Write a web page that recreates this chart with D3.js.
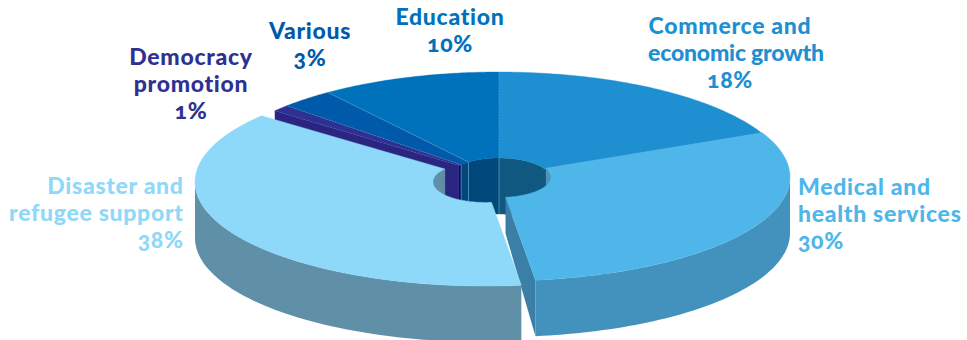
<!DOCTYPE html>
<html>
<head>
<meta charset="utf-8">
<script src="https://cdn.jsdelivr.net/npm/d3@7/dist/d3.min.js"></script>
<style>
html,body{margin:0;padding:0;background:#fff;}
svg{display:block;}
text{font-family:"Lato",sans-serif;font-weight:900;font-size:23px;letter-spacing:.7px;font-variant-numeric:oldstyle-nums;}
</style>
</head>
<body>
<svg id="chart" width="967" height="340"></svg>
<script>
// Funding shares, clockwise from the education wedge
const categories = ["Education","Commerce and economic growth","Medical and health services","Disaster and refugee support","Democracy promotion","Various"];
const shares = [10,18,30,38,1,3];
const labelLines = [["Education"],["Commerce and","economic growth"],["Medical and","health services"],["Disaster and","refugee support"],["Democracy","promotion"],["Various"]];
const topColors = ["#0071bb","#1e8fd1","#4fb6e9","#8ed8f9","#2e3192","#005aa9"];
const sideColors = ["#00477a","#10587f","#4292bd","#5f90a8","#2b2582","#00477a"];
const innerColors = ["#00477a","#10587f","#4a93bb","#5f8fa6","#0a0a62","#00477a"];

// Disc geometry and how far each wedge is pulled out of the disc
const CX = 499, CY = 179, RX = 291, RY = 107, HOLE_RX = 52, HOLE_RY = 21, DEPTH = 56;
const pulls = [{},{},{dy:-2,ky:104/107},{dx:-14,dy:3,ky:104/107,rx:290},{},{}];
const labelPos = [[450,25,"middle"],[730,34,"middle"],[798,195,"start"],[183.7,194,"end"],[191,65,"middle"],[310,39,"middle"]];
const LINE_H = 27;
// Optical tweaks for the wide second line of the commerce label
const lineTweak = {"economic growth":{dx:6,spacing:"-0.2px"}};

const svg = d3.select("#chart");
const pie = d3.pie().sort(null).startAngle(-0.2*Math.PI).endAngle(1.8*Math.PI);
const arcs = pie(shares).map((d,i)=>{
  const p = pulls[i], ky = p.ky||1;
  return {i, a0:d.startAngle, a1:d.endAngle, cx:CX+(p.dx||0), cy:CY+(p.dy||0), rx:p.rx||RX, ry:RY*ky, hx:HOLE_RX, hy:HOLE_RY*ky};
});

const line = d3.line();
const pt = (cx,cy,rx,ry,a,dz=0)=>[cx+rx*Math.sin(a), cy-ry*Math.cos(a)+dz];
const sweep = (a0,a1)=>d3.range(0,61).map(k=>a0+(a1-a0)*k/60);
const outer = (s,a0,a1,dz=0)=>sweep(a0,a1).map(a=>pt(s.cx,s.cy,s.rx,s.ry,a,dz));
const inner = (s,a0,a1,dz=0)=>sweep(a0,a1).map(a=>pt(s.cx,s.cy,s.hx,s.hy,a,dz));
const HALF = Math.PI/2, FULL = 2*Math.PI;

// Face of the central hole that belongs to one wedge, far half only
function holeWall(s){
  const out = [];
  for (const shift of [0,FULL]) {
    const lo = Math.max(s.a0, -HALF+shift), hi = Math.min(s.a1, HALF+shift);
    if (hi>lo) out.push(inner(s,lo,hi).concat(inner(s,lo,hi,DEPTH).reverse()));
  }
  return out;
}
function drawHole(s){
  holeWall(s).forEach(poly=>{
    svg.append("path").attr("d",line(poly)+"Z").attr("fill",innerColors[s.i]).attr("stroke",innerColors[s.i]).attr("stroke-width",.4);
  });
}

// Hole faces of the wedges that stay in the disc
arcs.filter(s=>s.i!==3).forEach(drawHole);
// Seams on the hole wall
[0,1,5].forEach(i=>{
  const s = arcs[i], top = pt(s.cx,s.cy,s.hx,s.hy,s.a0), bot = pt(s.cx,s.cy,s.hx,s.hy,s.a0,DEPTH);
  svg.append("path").attr("d",line([top,bot])).attr("stroke","#9fd0ee").attr("stroke-opacity",.55).attr("stroke-width",.8);
});

// Cut faces exposed where wedges were pulled out
{
  const s = arcs[4], oT = pt(s.cx,s.cy,s.rx,s.ry,s.a0), iT = pt(s.cx,s.cy,s.hx,s.hy,s.a0);
  svg.append("path").attr("d",line([oT,iT,[iT[0],iT[1]+DEPTH],[oT[0],oT[1]+DEPTH]])+"Z").attr("fill","#2b2582");
}
{
  const s = arcs[2], oT = pt(s.cx,s.cy,s.rx,s.ry,s.a1), iT = pt(s.cx,s.cy,s.hx,s.hy,s.a1);
  svg.append("path").attr("d",line([iT,oT,[oT[0],oT[1]+DEPTH],[iT[0],iT[1]+36]])+"Z").attr("fill","#3b7fa6");
}
drawHole(arcs[3]);

// Outer rim of the near half
[2,3].forEach(i=>{
  const s = arcs[i], lo = Math.max(s.a0,HALF), hi = Math.min(s.a1,3*HALF);
  const poly = outer(s,lo,hi).concat(outer(s,lo,hi,DEPTH).reverse());
  svg.append("path").attr("d",line(poly)+"Z").attr("fill",sideColors[i]);
});

// Top faces, with faint seams between the wedges that touch
arcs.forEach(s=>{
  const poly = outer(s,s.a0,s.a1).concat(inner(s,s.a0,s.a1).reverse());
  svg.append("path").attr("d",line(poly)+"Z").attr("fill",topColors[s.i]).attr("stroke",topColors[s.i]).attr("stroke-width",.4);
});
[0,1,2,5].forEach(i=>{
  const s = arcs[i];
  svg.append("path").attr("d",line([pt(s.cx,s.cy,s.hx,s.hy,s.a0),pt(s.cx,s.cy,s.rx,s.ry,s.a0)]))
    .attr("stroke","#9fd0ee").attr("stroke-opacity",.45).attr("stroke-width",.7).attr("stroke-dasharray", i===0?null:"1.5 1.5");
});

// Labels in the colour of their wedge
arcs.forEach(s=>{
  const [x,y,anchor] = labelPos[s.i];
  const t = svg.append("text").attr("text-anchor",anchor).attr("fill",topColors[s.i]);
  labelLines[s.i].concat([shares[s.i]+"%"]).forEach((txt,k)=>{
    const tweak = lineTweak[txt] || {};
    t.append("tspan").attr("x",x+(tweak.dx||0)).attr("y",y+k*LINE_H)
      .style("letter-spacing",tweak.spacing||null).text(txt);
  });
});
</script>
</body>
</html>
